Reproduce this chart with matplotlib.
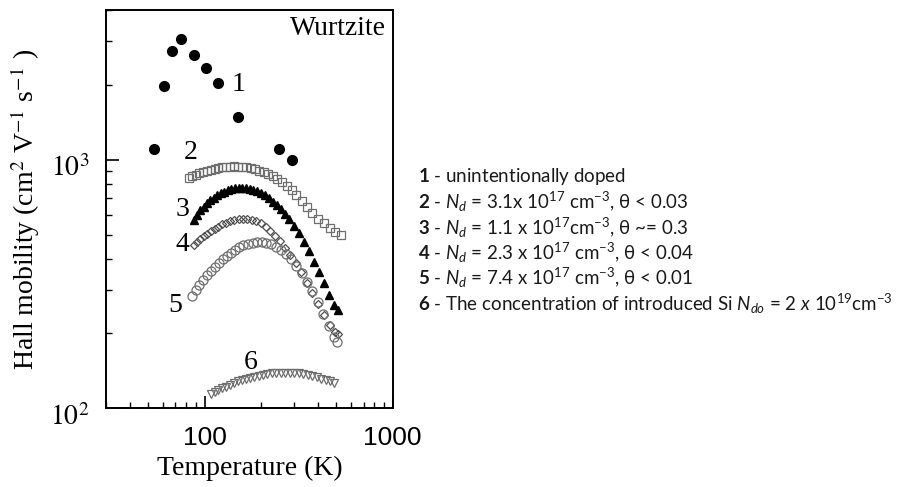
import numpy as np
import matplotlib
matplotlib.use('Agg')
import matplotlib.pyplot as plt
import matplotlib.transforms as mtransforms
from matplotlib.ticker import LogLocator, FixedLocator, NullFormatter, FixedFormatter

plt.rcParams['mathtext.fontset']='custom'
plt.rcParams['mathtext.rm']='Lato'
plt.rcParams['mathtext.it']='Lato:italic'
plt.rcParams['mathtext.bf']='Lato:bold'

# series 1 - unintentionally doped (filled circles)
t1=[54, 61, 67, 75, 88, 102, 118, 151, 248, 290]
mu1=[1104, 1975, 2750, 3066, 2650, 2343, 2038, 1486, 1104, 997]

# series 2 - open squares
t2=[83, 86, 90, 94, 98, 103, 108, 113, 118, 124, 130, 137, 144, 151, 159, 167, 176, 185, 195, 206, 218, 230, 244, 258, 273, 290, 308, 328, 350, 374, 400, 430, 462, 495, 530]
mu2=[846, 858, 870, 882, 892, 903, 912, 920, 926, 932, 936, 939, 940, 939, 936, 931, 924, 915, 905, 892, 876, 858, 836, 812, 786, 752, 718, 682, 646, 612, 580, 556, 530, 510, 498]

# series 3 - filled triangles
t3=[88, 91, 95, 99, 103, 107, 112, 117, 122, 127, 133, 139, 145, 152, 159, 166, 174, 182, 191, 200, 210, 220, 231, 243, 255, 268, 282, 298, 316, 336, 358, 381, 405, 431, 460, 490, 510]
mu3=[573, 600, 625, 648, 668, 686, 703, 719, 732, 743, 753, 761, 767, 770, 771, 769, 765, 758, 748, 735, 719, 700, 679, 656, 632, 605, 575, 542, 506, 467, 428, 388, 352, 318, 286, 260, 248]

# series 4 - open diamonds
t4=[88, 91, 95, 99, 103, 108, 113, 118, 124, 130, 137, 144, 152, 160, 169, 178, 188, 199, 211, 224, 238, 253, 269, 286, 305, 326, 349, 374, 401, 430, 462, 495, 515]
mu4=[452, 465, 478, 491, 503, 515, 527, 538, 549, 558, 566, 572, 577, 579, 578, 574, 566, 554, 538, 518, 495, 469, 442, 414, 384, 352, 320, 290, 262, 237, 216, 203, 198]

# series 5 - open circles
t5=[86, 90, 94, 98, 103, 108, 113, 119, 125, 131, 138, 145, 153, 161, 170, 180, 190, 201, 213, 226, 240, 255, 271, 288, 307, 328, 350, 374, 400, 428, 458, 490, 505]
mu5=[282, 298, 313, 327, 342, 357, 371, 385, 398, 411, 423, 434, 444, 452, 459, 464, 467, 467, 464, 457, 446, 432, 416, 397, 375, 350, 323, 295, 267, 240, 215, 193, 185]

# series 6 - open down triangles
t6=[108, 113, 118, 124, 130, 136, 143, 150, 158, 166, 175, 184, 194, 204, 215, 227, 240, 254, 268, 283, 299, 316, 334, 353, 373, 394, 416, 440, 465, 485]
mu6=[114, 116, 118, 120, 122, 124, 126, 128, 129.5, 131, 132.5, 134, 135, 136, 137, 138, 138.5, 139, 139, 139, 138.5, 138, 137, 136, 134.5, 133, 131.5, 130, 128, 126]

legend_lines=[
	r'$\mathbf{1}$ - unintentionally doped',
	r'$\mathbf{2}$ - $N_d$ = 3.1x 10$^{17}$ cm$^{-3}$, θ < 0.03',
	r'$\mathbf{3}$ - $N_d$ = 1.1 x 10$^{17}$cm$^{-3}$, θ ~= 0.3',
	r'$\mathbf{4}$ - $N_d$ = 2.3 x 10$^{17}$ cm$^{-3}$, θ < 0.04',
	r'$\mathbf{5}$ - $N_d$ = 7.4 x 10$^{17}$ cm$^{-3}$, θ < 0.01',
	r'$\mathbf{6}$ - The concentration of introduced Si $N_{do}$ = $\mathit{2\ x}$ 10$^{19}$cm$^{-3}$',
]

fig=plt.figure(figsize=(9.07,4.87), dpi=100)
ax=fig.add_axes([0.117, 0.162, 0.316, 0.817])

gray='#6e6e6e'
ax.plot(t1, mu1, 'o', color='black', markersize=7, linestyle='none')
ax.plot(t2, mu2, 's', mfc='none', mec=gray, markersize=6.3, mew=0.9, linestyle='none')
ax.plot(t3, mu3, '^', color='black', markersize=6, linestyle='none')
ax.plot(t4, mu4, 'D', mfc='none', mec='#505050', markersize=4.3, mew=0.9, linestyle='none')
ax.plot(t5, mu5, 'o', mfc='none', mec=gray, markersize=6.5, mew=0.9, linestyle='none')
ax.plot(t6, mu6, 'v', mfc='none', mec=gray, markersize=5.5, mew=0.9, linestyle='none')

ax.set_xscale('log')
ax.set_yscale('log')
ax.set_xlim(30, 1000)
ax.set_ylim(100, 4000)

for s in ax.spines.values():
	s.set_linewidth(1.4)

ax.xaxis.set_major_locator(FixedLocator([100, 1000]))
ax.xaxis.set_major_formatter(FixedFormatter(['100', '1000']))
ax.xaxis.set_minor_locator(LogLocator(base=10, subs=np.arange(2,10)))
ax.xaxis.set_minor_formatter(NullFormatter())
ax.yaxis.set_major_locator(FixedLocator([100, 1000]))
ax.yaxis.set_major_formatter(FixedFormatter([r'$10^2$', r'$10^3$']))
ax.yaxis.set_minor_locator(LogLocator(base=10, subs=np.arange(2,10)))
ax.yaxis.set_minor_formatter(NullFormatter())

ax.tick_params(which='major', direction='in', length=9, width=1.2)
ax.tick_params(which='minor', direction='in', length=4.5, width=1)
ax.tick_params(axis='x', which='major', pad=13, labelsize=19)
ax.tick_params(axis='y', which='major', pad=12, labelsize=20)
for lab in ax.get_xticklabels():
	lab.set_fontfamily('Liberation Sans')
shift=mtransforms.ScaledTranslation(0, -6/100, fig.dpi_scale_trans)
for tick in ax.yaxis.get_major_ticks():
	tick.label1.set_fontfamily('Liberation Serif')
	tick.label1.set_math_fontfamily('stix')
	tick.label1.set_transform(tick.label1.get_transform()+shift)

ax.set_xlabel('Temperature (K)', fontsize=20, family='Liberation Serif', labelpad=4)
ax.set_ylabel(r'Hall mobility (cm$^2$ V$^{-1}$ s$^{-1}$ )', fontsize=20, family='Liberation Serif', math_fontfamily='stix', labelpad=6)

labelpos=[('1', 152, 2000), ('2', 84, 1067), ('3', 76, 629), ('4', 76, 454), ('5', 70, 260), ('6', 176, 152)]
for txt, x, y in labelpos:
	ax.text(x, y, txt, fontsize=20, family='Liberation Serif', ha='center', va='center')

ax.text(0.975, 0.955, 'Wurtzite', transform=ax.transAxes, fontsize=20, family='Liberation Serif', ha='right', va='center')

for i, line in enumerate(legend_lines):
	fig.text(0.461, 0.637-i*0.052, line, fontsize=13.5, family=['Lato', 'DejaVu Sans'], math_fontfamily='custom', ha='left', va='center', color='#1a1a1a')

plt.savefig('out.png', dpi=100)
